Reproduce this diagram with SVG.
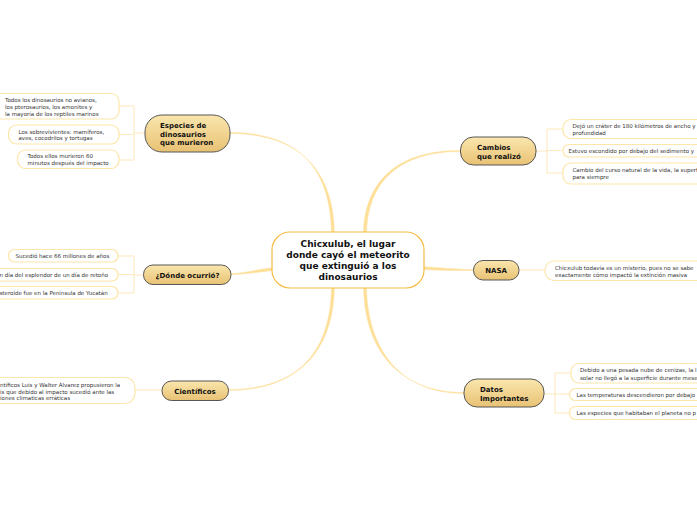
<svg xmlns="http://www.w3.org/2000/svg" width="697" height="520" viewBox="0 0 697 520">
<defs>
<linearGradient id="tg" x1="0" y1="0" x2="0" y2="1">
<stop offset="0" stop-color="#fae6ad"/>
<stop offset="1" stop-color="#e8c274"/>
</linearGradient>
<style>
.topic{fill:url(#tg);stroke:#575757;stroke-width:1}
.main{fill:#fff;stroke:#f6bd45;stroke-width:1.2}
.leaf{fill:#fff;stroke:#fde6aa;stroke-width:1.2}
.mc{fill:#fddf98;stroke:#fddf98;stroke-width:0.4;stroke-linejoin:round}
.lc{fill:none;stroke:#fde9bb;stroke-width:1}
.mt{font-family:"DejaVu Sans",Verdana,sans-serif;font-weight:bold;font-size:9px;fill:#111;text-anchor:middle}
.tt{font-family:"DejaVu Sans",Verdana,sans-serif;font-weight:bold;font-size:7px;fill:#111}
.lt{font-family:"DejaVu Sans",Verdana,sans-serif;font-size:5.5px;fill:#333}
</style>
</defs>
<rect width="697" height="520" fill="#fff"/>
<g id="connectors">
<path class="mc" d="M331.5 236 C331.5 164 295 132.5 230 132.5 L230 133.5 C295 133.5 334.5 166 334.5 236 Z"/>
<path class="mc" d="M274 267.5 C255 269.5 245 273.5 231 273.5 L231 274.5 C245 274.5 255 272.5 274 270.5 Z"/>
<path class="mc" d="M331.5 284 C331.5 356 295 389.5 228 389.5 L228 390.5 C295 390.5 334.5 354 334.5 284 Z"/>
<path class="mc" d="M363.5 236 C363.5 179 400 150.5 460 150.5 L460 151.5 C400 151.5 366.5 181 366.5 236 Z"/>
<path class="mc" d="M422 266.5 C440 267.5 455 269.5 473 269.5 L473 270.5 C455 270.5 440 270.5 422 269.5 Z"/>
<path class="mc" d="M363.5 284 C363.5 351 400 392.5 464 392.5 L464 393.5 C400 393.5 366.5 349 366.5 284 Z"/>
<path class="lc" d="M145 133 H134 M134 106 V160 M119 106 H134 M119 134.5 H134 M119 160 H134"/>
<path class="lc" d="M144 275 H134 M134 256 V293 M118 256 H134 M118 274.5 H134 M118 293 H134"/>
<path class="lc" d="M162 390 H135"/>
<path class="lc" d="M536 151 H547 M547 129 V173 M547 129 H563 M547 150.5 H563 M547 173 H563"/>
<path class="lc" d="M519 270 H545"/>
<path class="lc" d="M544 394 H555 M555 373 V413 M555 373 H571 M555 394 H571 M555 413 H571"/>
</g>
<g id="main">
<rect class="main" x="272" y="232" width="152" height="56" rx="18"/>
<text class="mt" x="348" y="246.5">Chicxulub, el lugar</text>
<text class="mt" x="348" y="257.5">donde cayó el meteorito</text>
<text class="mt" x="348" y="268.5">que extinguió a los</text>
<text class="mt" x="348" y="279.5">dinosaurios</text>
</g>
<g id="especies">
<rect class="topic" x="145" y="115" width="85" height="37" rx="17"/>
<text class="tt" x="160" y="128">Especies de</text>
<text class="tt" x="160" y="136.5">dinosaurios</text>
<text class="tt" x="160" y="145">que murieron</text>
</g>
<g id="especies-1">
<rect class="leaf" x="-10" y="93.5" width="129" height="25.5" rx="8"/>
<text class="lt" x="5" y="102">Todos los dinosaurios no avianos,</text>
<text class="lt" x="5" y="109">los pterosaurios, los amonites y</text>
<text class="lt" x="5" y="116">la mayoría de los reptiles marinos</text>
</g>
<g id="especies-2">
<rect class="leaf" x="8.5" y="125" width="110.5" height="19" rx="8"/>
<text class="lt" x="18.5" y="133.5">Los sobrevivientes: mamíferos,</text>
<text class="lt" x="18.5" y="140">aves, cocodrilos y tortugas</text>
</g>
<g id="especies-3">
<rect class="leaf" x="17.5" y="150" width="101.5" height="18.5" rx="8"/>
<text class="lt" x="27.5" y="158">Todos ellos murieron 60</text>
<text class="lt" x="27.5" y="165">minutos después del impacto</text>
</g>
<g id="donde">
<rect class="topic" x="143.5" y="265" width="87.5" height="19.5" rx="9.5"/>
<text class="tt" x="187.5" y="277.5" text-anchor="middle">¿Dónde ocurrió?</text>
</g>
<g id="donde-1">
<rect class="leaf" x="8.5" y="249.5" width="109.5" height="12.5" rx="6"/>
<text class="lt" x="15.5" y="258">Sucedió hace 66 millones de años</text>
</g>
<g id="donde-2">
<rect class="leaf" x="-10" y="268.5" width="128" height="12.5" rx="6"/>
<text class="lt" x="-0.5" y="276.5">n día del esplendor de un día de retoño</text>
</g>
<g id="donde-3">
<rect class="leaf" x="-10" y="286.5" width="128" height="12.5" rx="6"/>
<text class="lt" x="-0.5" y="295">steroide fue en la Península de Yucatán</text>
</g>
<g id="cientificos">
<rect class="topic" x="162" y="381" width="66.5" height="19.5" rx="9.5"/>
<text class="tt" x="195" y="393.5" text-anchor="middle">Científicos</text>
</g>
<g id="cientificos-1">
<rect class="leaf" x="-10" y="377.5" width="145" height="26" rx="10"/>
<text class="lt" x="0" y="387">ntíficos Luis y Walter Álvarez propusieron la</text>
<text class="lt" x="0" y="393.5">is que debido al impacto sucedió ante las</text>
<text class="lt" x="0" y="400">iones climaticas erráticas</text>
</g>
<g id="cambios">
<rect class="topic" x="460.5" y="137" width="75.5" height="28" rx="13"/>
<text class="tt" x="477" y="150">Cambios</text>
<text class="tt" x="477" y="158.5">que realizó</text>
</g>
<g id="cambios-1">
<rect class="leaf" x="563" y="119.5" width="150" height="19" rx="8"/>
<text class="lt" x="572.5" y="127.5">Dejó un cráter de 180 kilómetros de ancho y</text>
<text class="lt" x="572.5" y="135">profundidad</text>
</g>
<g id="cambios-2">
<rect class="leaf" x="563" y="144.5" width="150" height="12.5" rx="6"/>
<text class="lt" x="568.5" y="153">Estuvo escondido por debajo del sedimento y</text>
</g>
<g id="cambios-3">
<rect class="leaf" x="563" y="163" width="150" height="21" rx="8"/>
<text class="lt" x="572.5" y="172">Cambio del curso natural de la vida, la superf</text>
<text class="lt" x="572.5" y="178.5">para siempre</text>
</g>
<g id="nasa">
<rect class="topic" x="473.5" y="260.5" width="45.5" height="19.5" rx="9.5"/>
<text class="tt" x="496" y="273" text-anchor="middle">NASA</text>
</g>
<g id="nasa-1">
<rect class="leaf" x="545" y="261" width="170" height="19.5" rx="9"/>
<text class="lt" x="555" y="269.5">Chicxulub todavía es un misterio, pues no se sabe</text>
<text class="lt" x="555" y="276.5">exactamente cómo impactó la extinción masiva</text>
</g>
<g id="datos">
<rect class="topic" x="464" y="379" width="80" height="28" rx="13"/>
<text class="tt" x="480" y="392">Datos</text>
<text class="tt" x="480" y="400.5">Importantes</text>
</g>
<g id="datos-1">
<rect class="leaf" x="571" y="363.5" width="150" height="19.5" rx="8"/>
<text class="lt" x="580" y="372">Debido a una pesada nube de cenizas, la l</text>
<text class="lt" x="580" y="379.5">solar no llegó a la superficie durante mese</text>
</g>
<g id="datos-2">
<rect class="leaf" x="569.5" y="388.5" width="150" height="12" rx="6"/>
<text class="lt" x="576.5" y="396.5">Las temperaturas descendieron por debajo</text>
</g>
<g id="datos-3">
<rect class="leaf" x="569.5" y="406.5" width="150" height="13" rx="6"/>
<text class="lt" x="576.5" y="415">Las especies que habitaban el planeta no p</text>
</g>
</svg>
